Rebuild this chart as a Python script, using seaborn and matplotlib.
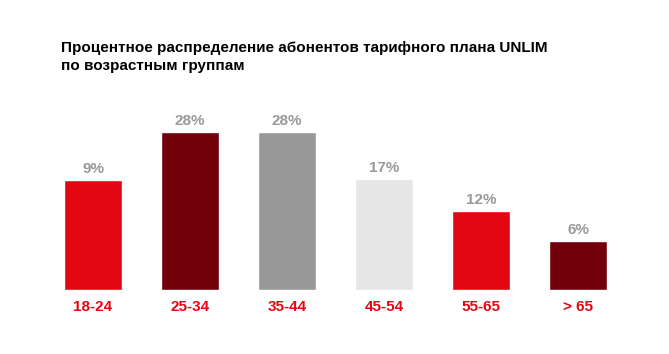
import pandas as pd
import matplotlib.pyplot as plt
import seaborn as sns

# данные с картинки
age_groups = ['18-24', '25-34', '35-44', '45-54', '55-65', '> 65']
pct_labels = ['9%', '28%', '28%', '17%', '12%', '6%']
# высоты столбцов так, как они нарисованы в оригинале (не пропорциональны подписям)
bar_heights = [110, 158, 158, 111, 79, 49]
bar_colors = ['#e30613', '#72000b', '#999999', '#e6e6e6', '#e30613', '#72000b']

sns.set_theme(style='white')
plt.rcParams['font.family'] = ['Liberation Sans', 'DejaVu Sans']

df = pd.DataFrame({'group': age_groups, 'height': bar_heights})

fig = plt.figure(figsize=(6.69, 3.54), dpi=100)
ax = fig.add_axes([0, 0, 1, 1])

sns.barplot(data=df, x='group', y='height', hue='group', palette=bar_colors,
            width=0.6, legend=False, saturation=1, ax=ax)

# подписи процентов над столбцами
for i, (h, lab) in enumerate(zip(bar_heights, pct_labels)):
    ax.annotate(lab, (i, h), xytext=(0, 8), textcoords='offset points',
                ha='center', va='center', fontsize=11, fontweight='bold',
                color='#999999')

# подписи возрастных групп
for i, g in enumerate(age_groups):
    ax.annotate(g, (i, 0), xytext=(0, -12.2), textcoords='offset points',
                ha='center', va='center', fontsize=11, fontweight='bold',
                color='#e30613')

ax.set_xlim(-0.9588, 5.938)
ax.set_ylim(-64, 290)
ax.axis('off')

fig.text(61 / 669, 1 - 41 / 354,
         'Процентное распределение абонентов тарифного плана UNLIM\nпо возрастным группам',
         ha='left', va='top', fontsize=11, fontweight='bold', color='black',
         linespacing=1.4)

plt.savefig('out.png', dpi=100, facecolor='white')
